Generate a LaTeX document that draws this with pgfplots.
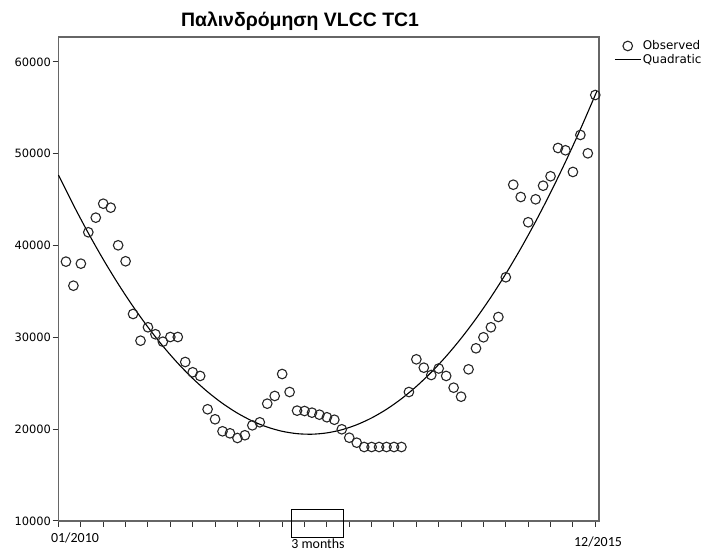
\documentclass[border=0pt]{standalone}
\usepackage{fontspec}
\setmainfont{Liberation Sans}
\newfontfamily\calibri{Carlito}
\newfontfamily\dejavu{DejaVu Sans}
\usepackage{pgfplots}
\pgfplotsset{compat=1.18}
\pgfplotsset{
  mymarkleg/.style={legend image code/.code={\draw[mark repeat=2,mark phase=2,##1] plot coordinates {(0bp,0bp) (13bp,0bp) (26bp,0bp)};}},
  mylineleg/.style={legend image code/.code={\draw[##1] (0bp,0bp) -- (26bp,0bp);}},
}
\begin{document}
\begin{tikzpicture}[x=1bp,y=1bp]
\useasboundingbox (0,0) rectangle (705,553);
\begin{axis}[
  at={(58.5bp,32bp)}, anchor=south west,
  scale only axis, width=540.5bp, height=484bp,
  xmin=0, xmax=72.5, ymin=10000, ymax=62720,
  axis line style={draw=black!60, line width=1.3bp},
  xtick={0,3,...,72}, xticklabels={},
  ytick={10000,20000,...,60000},
  scaled y ticks=false,
  tick align=outside, xtick pos=lower, ytick pos=left,
  major tick length=6bp,
  tick style={black!80, line width=1bp},
  /pgf/number format/1000 sep={},
  /pgf/number format/assume math mode=true,
  yticklabel style={font=\dejavu\fontsize{11.5}{12}\selectfont, xshift=2bp},
  legend style={at={(1,1)}, anchor=north west, xshift=15bp, yshift=-2bp,
    draw=none, fill=none, font=\dejavu\fontsize{12}{13}\selectfont,
    inner sep=0pt, row sep=0bp,
    nodes={inner sep=1.5bp}},
  legend cell align=left,
  clip=false,
]
\addplot[only marks, mark=o, mark size=4.8bp,
  mark options={line width=1.1bp, draw=black!85}, mymarkleg]
coordinates {
(1,38250) (2,35630) (3,38030) (4,41450) (5,43040) (6,44560) (7,44130) (8,40030)
(9,38290) (10,32550) (11,29640) (12,31100) (13,30340) (14,29530) (15,30040) (16,30040)
(17,27320) (18,26200) (19,25800) (20,22170) (21,21080) (22,19770) (23,19550) (24,19040)
(25,19340) (26,20420) (27,20750) (28,22780) (29,23620) (30,26010) (31,24050) (32,22020)
(33,21980) (34,21800) (35,21580) (36,21300) (37,21030) (38,19990) (39,19070) (40,18530)
(41,18060) (42,18060) (43,18060) (44,18060) (45,18060) (46,18060) (47,24050) (48,27610)
(49,26700) (50,25900) (51,26610) (52,25800) (53,24520) (54,23540) (55,26520) (56,28810)
(57,30010) (58,31100) (59,32220) (60,36550) (61,46630) (62,45290) (63,42540) (64,45040)
(65,46520) (66,47550) (67,50630) (68,50380) (69,48020) (70,52050) (71,50050) (72,56400)
};
\addlegendentry{Observed}
\addplot[black, line width=1.1bp, smooth, mylineleg]
coordinates {
(0,47685) (2,44422) (4,41360) (6,38497) (8,35834) (10,33372) (12,31111) (14,29050)
(16,27189) (18,25528) (20,24068) (22,22808) (24,21748) (26,20889) (28,20230) (30,19771)
(32,19513) (34,19454) (36,19597) (38,19939) (40,20482) (42,21225) (44,22169) (46,23313)
(48,24657) (50,26201) (52,27946) (54,29891) (56,32037) (58,34382) (60,36928) (62,39675)
(64,42621) (66,45769) (68,49116) (70,52663) (72,56412) (72.2,56798)
};
\addlegendentry{Quadratic}
\end{axis}
\node[font=\bfseries\fontsize{19.5}{20}\selectfont, anchor=base] at (300,526) {Παλινδρόμηση VLCC TC1};
\node[font=\calibri\fontsize{14}{14}\selectfont, anchor=base] at (75,10.5) {01/2010};
\node[font=\calibri\fontsize{14}{14}\selectfont, anchor=base] at (598,6.5) {12/2015};
\draw[black, line width=0.9bp] (291,16) rectangle (343,44);
\node[font=\calibri\fontsize{14}{14}\selectfont, anchor=base, inner sep=1bp] at (318,4) {3 months};
\end{tikzpicture}
\end{document}
